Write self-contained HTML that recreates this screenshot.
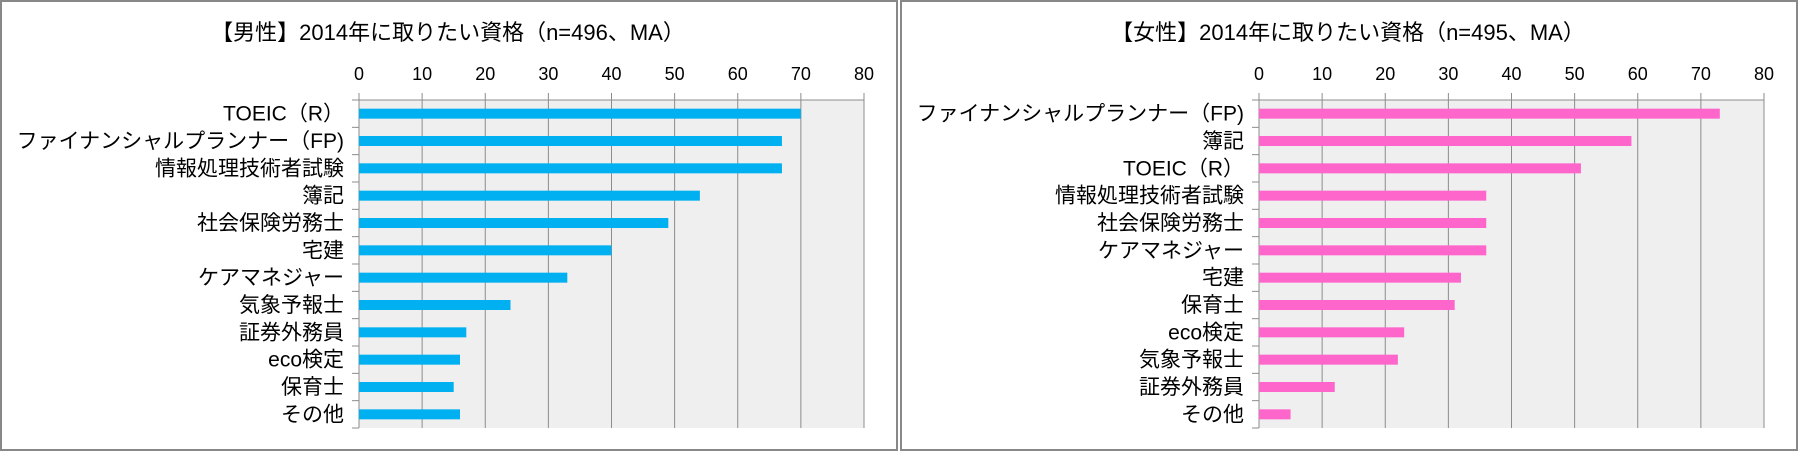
<!DOCTYPE html>
<html><head><meta charset="utf-8">
<style>
html,body{margin:0;padding:0;background:#fff;}
svg{display:block;font-family:"Liberation Sans","Noto Sans CJK JP",sans-serif;}
</style></head>
<body>
<svg id="chart" width="1798" height="452" viewBox="0 0 1798 452"></svg>
<script>
const maleCategories=["TOEIC（R）","ファイナンシャルプランナー（FP)","情報処理技術者試験","簿記","社会保険労務士","宅建","ケアマネジャー","気象予報士","証券外務員","eco検定","保育士","その他"];
const maleValues=[70,67,67,54,49,40,33,24,17,16,15,16];
const femaleCategories=["ファイナンシャルプランナー（FP)","簿記","TOEIC（R）","情報処理技術者試験","社会保険労務士","ケアマネジャー","宅建","保育士","eco検定","気象予報士","証券外務員","その他"];
const femaleValues=[73,59,51,36,36,36,32,31,23,22,12,5];
const tickLabels=[0,10,20,30,40,50,60,70,80];
const titles=["【男性】2014年に取りたい資格（n=496、MA）","【女性】2014年に取りたい資格（n=495、MA）"];

const NS="http://www.w3.org/2000/svg";
const svg=document.getElementById('chart');
function mk(tag,attrs,parent){const e=document.createElementNS(NS,tag);for(const k in attrs)e.setAttribute(k,attrs[k]);(parent||svg).appendChild(e);return e;}

function drawPanel(ox,cats,vals,title,color,key){
  const g=mk('g',{});
  
  
  const frame=mk('rect',{x:ox+1,y:1,width:896,height:449,fill:'#fff',stroke:'#888','stroke-width':2},g);
  
  
  const t=mk('text',{x:ox+448,y:40,'text-anchor':'middle','font-size':22,fill:'#000'},g);
  t.textContent=title;
  
  
  const L=ox+359,R=ox+864,T=100,B=428;
  const x=v=>L+(v/80)*(R-L);
  const bg=mk('rect',{x:L,y:T,width:R-L,height:B-T,fill:'#efefef'},g);
  
  
  tickLabels.forEach(v=>{
    const gl=mk('line',{x1:x(v),x2:x(v),y1:93,y2:B,stroke:'#8c8c8c','stroke-width':1},g);
    
    
    const tl=mk('text',{x:x(v),y:80,'text-anchor':'middle','font-size':18,fill:'#000'},g);
    tl.textContent=v;
    
    
  });
  const ax=mk('line',{x1:L-7,x2:R,y1:T,y2:T,stroke:'#8c8c8c','stroke-width':1},g);
  
  
  const yax=mk('line',{x1:L,x2:L,y1:T,y2:B,stroke:'#8c8c8c','stroke-width':1},g);
  
  
  const n=cats.length,rh=(B-T)/n;
  for(let i=0;i<=n;i++){
    mk('line',{x1:L-7,x2:L,y1:T+i*rh,y2:T+i*rh,stroke:'#8c8c8c','stroke-width':1},g);
  }
  cats.forEach((c,i)=>{
    const cy=T+(i+0.5)*rh;
    const b=mk('rect',{x:L,y:cy-5,width:x(vals[i])-L,height:10,fill:color},g);
    
    
    const lab=mk('text',{x:L-15,y:cy+7,'text-anchor':'end','font-size':21,fill:'#000'},g);
    lab.textContent=c;
    
    
  });
}
drawPanel(0,maleCategories,maleValues,titles[0],'#00b0f0','male');
drawPanel(900,femaleCategories,femaleValues,titles[1],'#ff66cc','female');
</script>
</body></html>
